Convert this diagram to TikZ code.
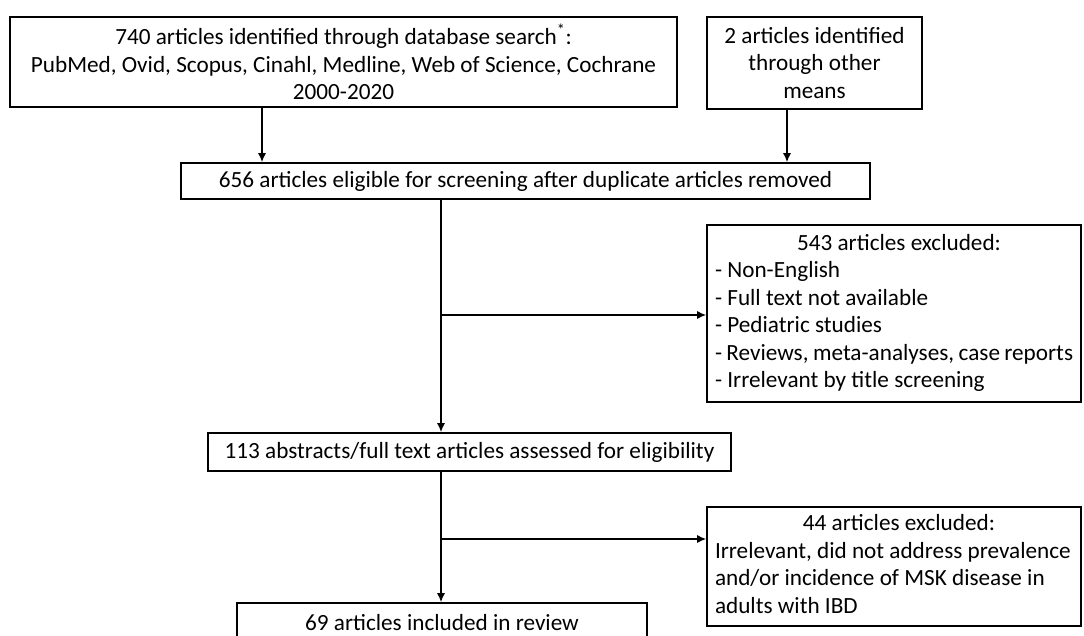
\documentclass[tikz,border=0pt]{standalone}
\usepackage{fontspec}
\setmainfont{Carlito}
\usetikzlibrary{arrows.meta}
\begin{document}
\begin{tikzpicture}[x=1pt,y=-1pt,
  box/.style={draw=black, line width=1.6pt, rectangle, inner sep=0pt, align=center,
    font=\fontsize{23.2}{27.5}\selectfont},
  conn/.style={line width=1.4pt, -{Latex[length=9pt,width=8pt]}}]
\useasboundingbox (0,0) rectangle (1084,636);
\clip (0,0) rectangle (1084,636);
\node[box, minimum width=667pt, minimum height=90pt] (b1) at (343.5,62)
  {740 articles identified through database search\textsuperscript{*}:\\PubMed, Ovid, Scopus, Cinahl, Medline, Web of Science, Cochrane\\2000-2020};
\node[box, minimum width=215pt, minimum height=92pt] (b2) at (814.5,63)
  {2 articles identified\\through other\\means};
\node[box, minimum width=689pt, minimum height=36pt] (b3) at (525.5,181)
  {656 articles eligible for screening after duplicate articles removed};
\node[box, minimum width=374pt, minimum height=177pt, align=left] (b5) at (894,313.5)
  {\begin{tabular}{@{}p{358pt}@{}}\multicolumn{1}{@{}c@{}}{\hspace*{10pt}543 articles excluded:}\\
  - Non-English\\- Full text not available\\- Pediatric studies\\- Reviews, meta-analyses, case reports\\- Irrelevant by title screening\end{tabular}};
\node[box, minimum width=523pt, minimum height=38pt] (b4) at (469.5,452)
  {113 abstracts/full text articles assessed for eligibility};
\node[box, minimum width=374pt, minimum height=119pt, align=left] (b6) at (894,566.5)
  {\begin{tabular}{@{}p{358pt}@{}}\multicolumn{1}{@{}c@{}}{\hspace*{10pt}44 articles excluded:}\\
  Irrelevant, did not address prevalence\\and/or incidence of MSK disease in\\adults with IBD\end{tabular}};
\node[box, minimum width=410pt, minimum height=40pt] (b7) at (442,623)
  {69 articles included in review};
\coordinate (t1) at (262,107);
\coordinate (t2) at (787,109);
\coordinate (s3) at (441,199);
\coordinate (j1) at (441,315);
\coordinate (s4) at (441,471);
\coordinate (j2) at (441,539);
\draw[conn] (t1) -- (t1 |- b3.north);
\draw[conn] (t2) -- (t2 |- b3.north);
\draw[conn] (s3) -- (s3 |- b4.north);
\draw[conn] (j1) -- (j1 -| b5.west);
\draw[conn] (s4) -- (s4 |- b7.north);
\draw[conn] (j2) -- (j2 -| b6.west);
\end{tikzpicture}
\end{document}
